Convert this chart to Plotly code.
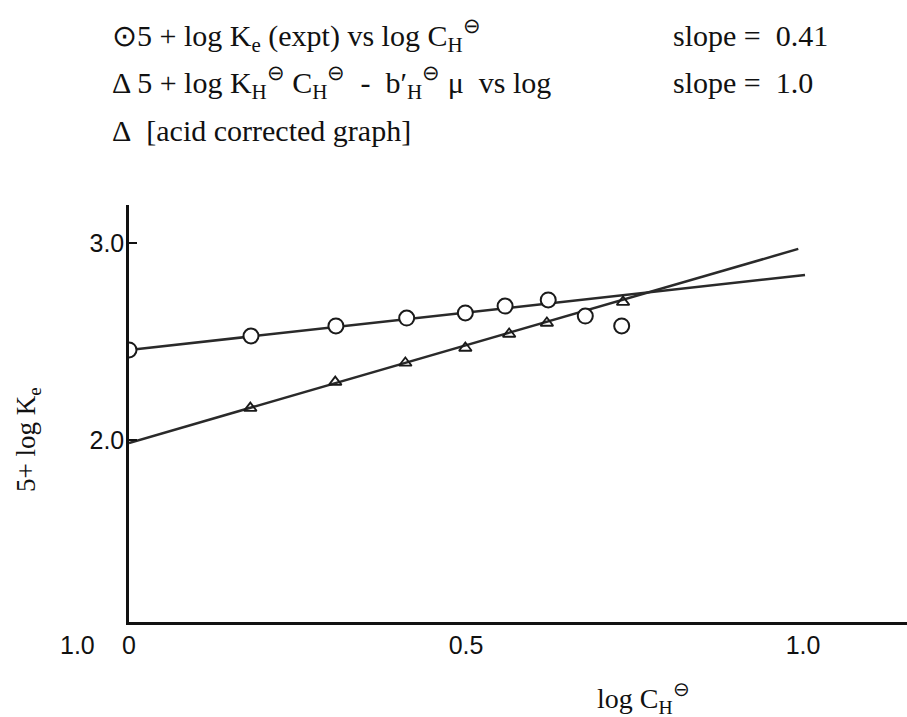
import plotly.graph_objects as go

# ---- data ----
circ_x = [0.0, 0.181, 0.307, 0.412, 0.499, 0.558, 0.622, 0.677, 0.731]
circ_y = [2.457, 2.528, 2.579, 2.619, 2.645, 2.680, 2.711, 2.629, 2.579]

tri_x = [0.180, 0.306, 0.410, 0.499, 0.564, 0.620, 0.733]
tri_y = [2.162, 2.294, 2.391, 2.467, 2.538, 2.594, 2.700]

circ_fit_x = [0.0, 1.003]
circ_fit_y = [2.457, 2.838]
tri_fit_x = [0.0, 0.993]
tri_fit_y = [1.985, 2.970]

x_ticks = [0, 0.5, 1.0]
x_ticktext = ["0", "0.5", "1.0"]
y_ticks = [2.0, 3.0]
y_ticktext = ["2.0", "3.0"]

W, H = 907, 717
L, R, T, B = 129, 0, 205, 95

def px(xp):
    return (xp - L) / (W - L - R)

def py(yp):
    return (H - B - yp) / (H - B - T)

serif = "Liberation Serif, Times New Roman, serif"
sans = "Liberation Sans, Arial, sans-serif"
ink = "#1a1a1a"

fig = go.Figure()
fig.add_trace(go.Scatter(x=circ_fit_x, y=circ_fit_y, mode="lines",
                         line=dict(color="#2a2a2a", width=2.5), showlegend=False))
fig.add_trace(go.Scatter(x=tri_fit_x, y=tri_fit_y, mode="lines",
                         line=dict(color="#2a2a2a", width=2.5), showlegend=False))
fig.add_trace(go.Scatter(x=circ_x, y=circ_y, mode="markers",
                         marker=dict(symbol="circle", size=15, color="white",
                                     line=dict(color=ink, width=2)),
                         showlegend=False))
fig.add_trace(go.Scatter(x=tri_x, y=tri_y, mode="markers",
                         marker=dict(symbol="triangle-up-open", size=11, color=ink,
                                     line=dict(color=ink, width=1.8)),
                         showlegend=False))

nb = "\u00a0"
ann = [
    dict(text="⊙5 + log K<sub>e</sub> (expt) vs log C<sub>H</sub><sup>⊖</sup>",
         x=px(110), y=py(35), xanchor="left", yanchor="middle"),
    dict(text="slope" + nb + "=" + nb * 2 + "0.41",
         x=px(671), y=py(35), xanchor="left", yanchor="middle"),
    dict(text="Δ 5 + log K<sub>H</sub><sup>⊖</sup> C<sub>H</sub><sup>⊖</sup>" + nb + " - " + nb +
              "b′<sub>H</sub><sup>⊖</sup> μ" + nb + " vs log",
         x=px(110), y=py(82), xanchor="left", yanchor="middle"),
    dict(text="slope = " + nb + "1.0",
         x=px(671), y=py(82), xanchor="left", yanchor="middle"),
    dict(text="Δ" + nb + " [acid corrected graph]",
         x=px(110), y=py(130), xanchor="left", yanchor="middle"),
]
annotations = []
for a in ann:
    a.update(xref="paper", yref="paper", showarrow=False,
             font=dict(family=serif, size=30, color="#111"))
    annotations.append(a)

# axis titles
annotations.append(dict(text="log C<sub>H</sub><sup>⊖</sup>", x=px(643), y=py(698),
                        xref="paper", yref="paper", showarrow=False,
                        xanchor="center", yanchor="middle",
                        font=dict(family=serif, size=28, color="#111")))
annotations.append(dict(text="5+ log K<sub>e</sub>", x=px(28), y=py(440),
                        xref="paper", yref="paper", showarrow=False, textangle=-90,
                        xanchor="center", yanchor="middle",
                        font=dict(family=serif, size=27, color="#111")))
# stray origin label
annotations.append(dict(text="1.0", x=px(77), y=py(645),
                        xref="paper", yref="paper", showarrow=False,
                        xanchor="center", yanchor="middle",
                        font=dict(family=sans, size=25, color="#111")))

fig.update_layout(
    width=W, height=H, autosize=False,
    margin=dict(l=L, r=R, t=T, b=B, pad=0),
    paper_bgcolor="white", plot_bgcolor="white",
    annotations=annotations,
    xaxis=dict(range=[0, (W - L) / 674.0], tickvals=x_ticks, ticktext=x_ticktext,
               showgrid=False, zeroline=False, showline=True, linecolor="#111",
               linewidth=2.5, ticks="", ticklabelstandoff=-1,
               tickfont=dict(family=sans, size=25, color="#111")),
    yaxis=dict(range=[3.0 - (H - B - 243) / 197.0, 3.0 + (243 - T) / 197.0],
               tickvals=y_ticks, ticktext=y_ticktext,
               showgrid=False, zeroline=False, showline=True, linecolor="#111",
               linewidth=2.5, ticks="inside", ticklen=8, tickwidth=2, tickcolor="#111",
               ticklabelstandoff=-3,
               tickfont=dict(family=sans, size=25, color="#111")),
)

fig.write_html("out.html")
